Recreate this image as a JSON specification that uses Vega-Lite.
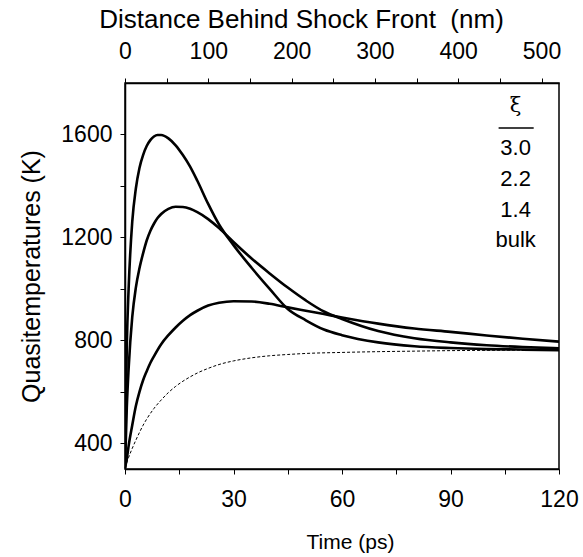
{
  "$schema": "https://vega.github.io/schema/vega-lite/v6.json",
  "width": 434,
  "height": 386,
  "autosize": "none",
  "padding": {"left": 125, "top": 83, "right": 24, "bottom": 88},
  "config": {
    "font": "Liberation Sans",
    "view": {"stroke": "black", "strokeWidth": 1.5},
    "axis": {
      "grid": false,
      "domainColor": "black",
      "domainWidth": 1.5,
      "tickColor": "black",
      "tickWidth": 1,
      "tickSize": 5,
      "labelColor": "black",
      "titleColor": "black",
      "labelFont": "Liberation Sans",
      "titleFont": "Liberation Sans",
      "titleFontWeight": "normal",
      "labelFontSize": 23,
      "titleFontSize": 25
    }
  },
  "datasets": {
    "curves": [
      {"t": 0, "T": 305, "series": "3.0"},
      {"t": 0.5, "T": 780, "series": "3.0"},
      {"t": 1, "T": 1000, "series": "3.0"},
      {"t": 2, "T": 1260, "series": "3.0"},
      {"t": 3, "T": 1390, "series": "3.0"},
      {"t": 4, "T": 1470, "series": "3.0"},
      {"t": 5, "T": 1520, "series": "3.0"},
      {"t": 6, "T": 1555, "series": "3.0"},
      {"t": 7, "T": 1578, "series": "3.0"},
      {"t": 8, "T": 1592, "series": "3.0"},
      {"t": 9, "T": 1598, "series": "3.0"},
      {"t": 10, "T": 1598, "series": "3.0"},
      {"t": 12, "T": 1585, "series": "3.0"},
      {"t": 14, "T": 1558, "series": "3.0"},
      {"t": 16, "T": 1520, "series": "3.0"},
      {"t": 18, "T": 1475, "series": "3.0"},
      {"t": 20, "T": 1420, "series": "3.0"},
      {"t": 23, "T": 1330, "series": "3.0"},
      {"t": 26, "T": 1250, "series": "3.0"},
      {"t": 30, "T": 1170, "series": "3.0"},
      {"t": 35, "T": 1082, "series": "3.0"},
      {"t": 40, "T": 1000, "series": "3.0"},
      {"t": 45, "T": 922, "series": "3.0"},
      {"t": 50, "T": 878, "series": "3.0"},
      {"t": 55, "T": 842, "series": "3.0"},
      {"t": 60, "T": 820, "series": "3.0"},
      {"t": 70, "T": 792, "series": "3.0"},
      {"t": 80, "T": 777, "series": "3.0"},
      {"t": 90, "T": 770, "series": "3.0"},
      {"t": 100, "T": 766, "series": "3.0"},
      {"t": 110, "T": 764, "series": "3.0"},
      {"t": 120, "T": 762, "series": "3.0"},
      {"t": 0, "T": 305, "series": "2.2"},
      {"t": 0.5, "T": 540, "series": "2.2"},
      {"t": 1, "T": 690, "series": "2.2"},
      {"t": 2, "T": 890, "series": "2.2"},
      {"t": 3, "T": 1005, "series": "2.2"},
      {"t": 4, "T": 1080, "series": "2.2"},
      {"t": 5, "T": 1138, "series": "2.2"},
      {"t": 6, "T": 1188, "series": "2.2"},
      {"t": 7, "T": 1225, "series": "2.2"},
      {"t": 8, "T": 1253, "series": "2.2"},
      {"t": 9, "T": 1275, "series": "2.2"},
      {"t": 10, "T": 1291, "series": "2.2"},
      {"t": 12, "T": 1311, "series": "2.2"},
      {"t": 14, "T": 1319, "series": "2.2"},
      {"t": 16, "T": 1318, "series": "2.2"},
      {"t": 18, "T": 1311, "series": "2.2"},
      {"t": 20, "T": 1298, "series": "2.2"},
      {"t": 23, "T": 1271, "series": "2.2"},
      {"t": 26, "T": 1236, "series": "2.2"},
      {"t": 30, "T": 1182, "series": "2.2"},
      {"t": 35, "T": 1118, "series": "2.2"},
      {"t": 40, "T": 1060, "series": "2.2"},
      {"t": 45, "T": 1005, "series": "2.2"},
      {"t": 50, "T": 955, "series": "2.2"},
      {"t": 55, "T": 912, "series": "2.2"},
      {"t": 60, "T": 883, "series": "2.2"},
      {"t": 70, "T": 836, "series": "2.2"},
      {"t": 80, "T": 808, "series": "2.2"},
      {"t": 90, "T": 792, "series": "2.2"},
      {"t": 100, "T": 781, "series": "2.2"},
      {"t": 110, "T": 774, "series": "2.2"},
      {"t": 120, "T": 769, "series": "2.2"},
      {"t": 0, "T": 305, "series": "1.4"},
      {"t": 0.5, "T": 340, "series": "1.4"},
      {"t": 1, "T": 390, "series": "1.4"},
      {"t": 2, "T": 470, "series": "1.4"},
      {"t": 3, "T": 545, "series": "1.4"},
      {"t": 4, "T": 600, "series": "1.4"},
      {"t": 5, "T": 645, "series": "1.4"},
      {"t": 6, "T": 680, "series": "1.4"},
      {"t": 7, "T": 712, "series": "1.4"},
      {"t": 8, "T": 738, "series": "1.4"},
      {"t": 10, "T": 785, "series": "1.4"},
      {"t": 12, "T": 820, "series": "1.4"},
      {"t": 14, "T": 850, "series": "1.4"},
      {"t": 16, "T": 876, "series": "1.4"},
      {"t": 18, "T": 898, "series": "1.4"},
      {"t": 20, "T": 915, "series": "1.4"},
      {"t": 23, "T": 935, "series": "1.4"},
      {"t": 26, "T": 946, "series": "1.4"},
      {"t": 30, "T": 952, "series": "1.4"},
      {"t": 35, "T": 951, "series": "1.4"},
      {"t": 40, "T": 942, "series": "1.4"},
      {"t": 45, "T": 928, "series": "1.4"},
      {"t": 50, "T": 915, "series": "1.4"},
      {"t": 55, "T": 902, "series": "1.4"},
      {"t": 60, "T": 889, "series": "1.4"},
      {"t": 70, "T": 865, "series": "1.4"},
      {"t": 80, "T": 846, "series": "1.4"},
      {"t": 90, "T": 833, "series": "1.4"},
      {"t": 100, "T": 819, "series": "1.4"},
      {"t": 110, "T": 806, "series": "1.4"},
      {"t": 120, "T": 795, "series": "1.4"},
      {"t": 0, "T": 305, "series": "bulk"},
      {"t": 0.5, "T": 325, "series": "bulk"},
      {"t": 1, "T": 345, "series": "bulk"},
      {"t": 2, "T": 380, "series": "bulk"},
      {"t": 3, "T": 412, "series": "bulk"},
      {"t": 4, "T": 442, "series": "bulk"},
      {"t": 5, "T": 470, "series": "bulk"},
      {"t": 6, "T": 494, "series": "bulk"},
      {"t": 8, "T": 535, "series": "bulk"},
      {"t": 10, "T": 568, "series": "bulk"},
      {"t": 12, "T": 597, "series": "bulk"},
      {"t": 14, "T": 621, "series": "bulk"},
      {"t": 16, "T": 641, "series": "bulk"},
      {"t": 18, "T": 658, "series": "bulk"},
      {"t": 20, "T": 673, "series": "bulk"},
      {"t": 23, "T": 691, "series": "bulk"},
      {"t": 26, "T": 706, "series": "bulk"},
      {"t": 30, "T": 720, "series": "bulk"},
      {"t": 35, "T": 732, "series": "bulk"},
      {"t": 40, "T": 740, "series": "bulk"},
      {"t": 45, "T": 745, "series": "bulk"},
      {"t": 50, "T": 749, "series": "bulk"},
      {"t": 60, "T": 753, "series": "bulk"},
      {"t": 70, "T": 756, "series": "bulk"},
      {"t": 80, "T": 758, "series": "bulk"},
      {"t": 90, "T": 760, "series": "bulk"},
      {"t": 100, "T": 761, "series": "bulk"},
      {"t": 110, "T": 762, "series": "bulk"},
      {"t": 120, "T": 762, "series": "bulk"}
    ],
    "legend": [
      {"t": 108, "T": 1712, "label": "ξ", "kind": "head"},
      {"t": 108, "T": 1548, "label": "3.0", "kind": "item"},
      {"t": 108, "T": 1427, "label": "2.2", "kind": "item"},
      {"t": 108, "T": 1307, "label": "1.4", "kind": "item"},
      {"t": 108, "T": 1190, "label": "bulk", "kind": "item"}
    ],
    "underline": [
      {"t1": 103.3, "t2": 113, "T": 1625}
    ],
    "distance": [
      {"d": 0},
      {"d": 521}
    ]
  },
  "layer": [
    {
      "layer": [
        {
          "data": {"name": "curves"},
          "transform": [{"filter": "datum.series !== 'bulk'"}],
          "mark": {"type": "line", "color": "black", "strokeWidth": 2.6, "interpolate": "monotone", "clip": true},
          "encoding": {
            "x": {
              "field": "t", "type": "quantitative",
              "scale": {"domain": [0, 120], "nice": false, "zero": false},
              "axis": {
                "orient": "bottom",
                "title": "Time (ps)",
                "titleFontSize": 21,
                "titleX": 225,
                "values": [0, 15, 30, 45, 60, 75, 90, 105, 120],
                "labelExpr": "datum.value % 30 === 0 ? datum.label : ''",
                "labelPadding": 14,
                "titlePadding": 20,
                "labelFlush": false
              }
            },
            "y": {
              "field": "T", "type": "quantitative",
              "scale": {"domain": [300, 1800], "nice": false, "zero": false},
              "axis": {
                "title": "Quasitemperatures (K)",
                "values": [400, 600, 800, 1000, 1200, 1400, 1600],
                "labelExpr": "datum.value % 400 === 0 ? datum.label : ''",
                "format": "d",
                "labelPadding": 8,
                "titlePadding": 16
              }
            },
            "detail": {"field": "series"}
          }
        },
        {
          "data": {"name": "curves"},
          "transform": [{"filter": "datum.series === 'bulk'"}],
          "mark": {"type": "line", "color": "black", "strokeWidth": 1, "strokeDash": [3, 2], "interpolate": "monotone"},
          "encoding": {
            "x": {"field": "t", "type": "quantitative"},
            "y": {"field": "T", "type": "quantitative"}
          }
        },
        {
          "data": {"name": "legend"},
          "transform": [{"filter": "datum.kind === 'item'"}],
          "mark": {"type": "text", "fontSize": 22, "font": "Liberation Sans", "color": "black", "align": "center", "baseline": "middle"},
          "encoding": {
            "x": {"field": "t", "type": "quantitative"},
            "y": {"field": "T", "type": "quantitative"},
            "text": {"field": "label"}
          }
        },
        {
          "data": {"name": "legend"},
          "transform": [{"filter": "datum.kind === 'head'"}],
          "mark": {"type": "text", "fontSize": 21, "font": "DejaVu Serif", "color": "black", "align": "center", "baseline": "middle"},
          "encoding": {
            "x": {"field": "t", "type": "quantitative"},
            "y": {"field": "T", "type": "quantitative"},
            "text": {"field": "label"}
          }
        },
        {
          "data": {"name": "underline"},
          "mark": {"type": "rule", "color": "black", "strokeWidth": 1.5},
          "encoding": {
            "x": {"field": "t1", "type": "quantitative"},
            "x2": {"field": "t2"},
            "y": {"field": "T", "type": "quantitative"}
          }
        }
      ]
    },
    {
      "data": {"name": "distance"},
      "mark": {"type": "point", "opacity": 0},
      "encoding": {
        "x": {
          "field": "d", "type": "quantitative",
          "scale": {"domain": [0, 521], "nice": false, "zero": false},
          "axis": {
            "orient": "top",
            "title": "Distance Behind Shock Front \u00a0(nm)",
            "titleFontSize": 26,
            "titleX": 176,
            "values": [0, 50, 100, 150, 200, 250, 300, 350, 400, 450, 500],
            "labelExpr": "datum.value % 100 === 0 ? datum.label : ''",
            "labelPadding": 15,
            "titlePadding": 8,
            "labelFlush": false
          }
        }
      }
    }
  ],
  "resolve": {"scale": {"x": "independent"}, "axis": {"x": "independent"}}
}
